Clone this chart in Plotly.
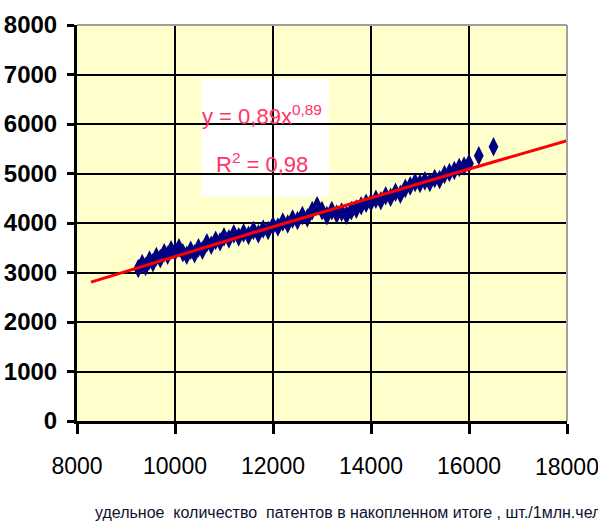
import numpy as np
import plotly.graph_objects as go

# Data
patents_x = [9250, 9330, 9400, 9480, 9550, 9620, 9700, 9780, 9850, 9920,
             10000, 10080, 10160, 10240, 10320, 10400, 10480, 10560, 10650, 10740,
             10830, 10920, 11000, 11100, 11200, 11300, 11400, 11500, 11600, 11700,
             11800, 11900, 12000, 12100, 12200, 12300, 12400, 12500, 12600, 12700,
             12800, 12900, 13000, 13100, 13200, 13300, 13400, 13500, 13600, 13700,
             13800, 13900, 14000, 14100, 14200, 14300, 14400, 14500, 14600, 14700,
             14800, 14900, 15000, 15100, 15200, 15300, 15400, 15500, 15600, 15700,
             15800, 15900, 16000, 16200, 16500]
value_y = [3080, 3180, 3120, 3250, 3200, 3320, 3280, 3400, 3350, 3460,
           3420, 3500, 3400, 3350, 3450, 3380, 3500, 3450, 3600, 3550,
           3650, 3620, 3720, 3680, 3780, 3720, 3800, 3750, 3850, 3780,
           3880, 3850, 3950, 3920, 4020, 3980, 4080, 4050, 4150, 4100,
           4250, 4350, 4250, 4150, 4250, 4180, 4220, 4160, 4250, 4280,
           4350, 4400, 4420, 4480, 4450, 4550, 4520, 4620, 4580, 4700,
           4750, 4820, 4800, 4850, 4820, 4900, 4880, 4980, 5020, 5060,
           5120, 5150, 5200, 5360, 5540]

# Power trend line as drawn (y = a * x^b), and its x extent
trend_a = 0.798
trend_b = 0.905
trend_x_start = 8285
trend_x_end = 18000

x_ticks = [8000, 10000, 12000, 14000, 16000, 18000]
y_ticks = [0, 1000, 2000, 3000, 4000, 5000, 6000, 7000, 8000]

eq_text = "y = 0,89x<sup>0,89</sup>"
r2_text = "R<sup>2</sup> = 0,98"
x_title = "удельное  количество  патентов в накопленном итоге , шт./1млн.чел"

tx = np.linspace(trend_x_start, trend_x_end, 60)
ty = trend_a * tx ** trend_b

# last x tick label overflows the page edge (as in the original), so it is
# drawn as an annotation that the browser clips instead of being dropped
x_ticktext = [str(v) for v in x_ticks[:-1]] + [""]

fig = go.Figure()
fig.add_trace(go.Scatter(
    x=patents_x, y=value_y, mode="markers",
    marker=dict(symbol="diamond-tall", size=14, color="#000080",
                line=dict(width=0)),
    showlegend=False, hoverinfo="skip"))
fig.add_trace(go.Scatter(
    x=tx, y=ty, mode="lines", line=dict(color="#FF0000", width=3),
    showlegend=False, hoverinfo="skip"))

fig.update_layout(
    width=598, height=526,
    margin=dict(l=77, r=31, t=25, b=105, autoexpand=False),
    paper_bgcolor="white",
    plot_bgcolor="#FFFFCC",
    font=dict(family="Liberation Sans, Arial, sans-serif", color="black"),
    xaxis=dict(range=[8000, 18000], tickvals=x_ticks,
               ticktext=x_ticktext, automargin=False,
               showgrid=True, gridcolor="black", gridwidth=1.5,
               zeroline=False, showline=True, linecolor="black", linewidth=3,
               ticks="outside", ticklen=10, tickwidth=3, tickcolor="black",
               ticklabelstandoff=12,
               tickfont=dict(size=23, color="black")),
    yaxis=dict(range=[0, 8000], tickvals=y_ticks,
               ticktext=[str(v) for v in y_ticks], automargin=False,
               showgrid=True, gridcolor="black", gridwidth=1.5,
               zeroline=False, showline=True, linecolor="black", linewidth=3,
               ticks="outside", ticklen=7, tickwidth=3, tickcolor="black",
               ticklabelstandoff=5,
               tickfont=dict(size=24, color="black", weight="bold")),
    shapes=[
        dict(type="rect", xref="paper", yref="paper",
             x0=0.253, x1=0.514, y0=0.566, y1=0.864,
             fillcolor="white", line=dict(width=0), layer="between"),
        dict(type="line", xref="paper", yref="paper", x0=0, x1=1, y0=1, y1=1,
             line=dict(color="#A0A0A0", width=2), layer="above"),
        dict(type="line", xref="paper", yref="paper", x0=1, x1=1, y0=0, y1=1,
             line=dict(color="#A0A0A0", width=2), layer="above"),
    ],
    annotations=[
        dict(text=eq_text, xref="paper", yref="paper", x=0.378, y=0.773,
             showarrow=False, xanchor="center", yanchor="middle",
             font=dict(size=22, color="#FF3366")),
        dict(text=r2_text, xref="paper", yref="paper", x=0.378, y=0.652,
             showarrow=False, xanchor="center", yanchor="middle",
             font=dict(size=22, color="#FF3366")),
        dict(text=str(x_ticks[-1]), xref="x", yref="paper", x=x_ticks[-1],
             y=-0.117, showarrow=False, xanchor="center", yanchor="middle",
             borderpad=0, font=dict(size=23, color="black")),
        dict(text=x_title, xref="paper", yref="paper", x=0.033, y=-0.232,
             showarrow=False, xanchor="left", yanchor="middle",
             font=dict(size=16, color="#101030")),
    ],
)

fig.write_html("out.html")
